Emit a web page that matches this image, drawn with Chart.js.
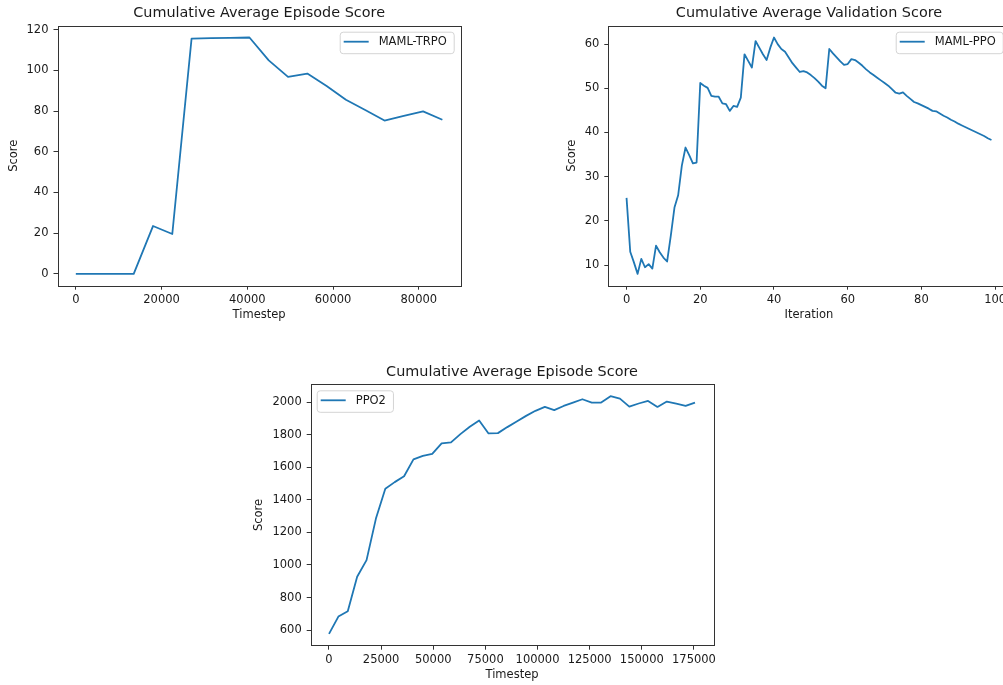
<!DOCTYPE html>
<html>
<head>
<meta charset="utf-8">
<script src="https://cdn.jsdelivr.net/npm/chart.js@4.4.0/dist/chart.umd.min.js"></script>
<style>
  html, body { margin: 0; padding: 0; background: #fff; overflow: hidden; }
  body { width: 1003px; height: 685px; position: relative; }
  canvas { position: absolute; }
</style>
</head>
<body>
<canvas id="trpo"></canvas>
<canvas id="mamlppo"></canvas>
<canvas id="ppo2"></canvas>
<script>
// MAML-TRPO: cumulative average episode score vs timestep
var trpoSteps = [0, 4500, 9000, 13500, 18000, 22500, 27000, 31500, 36000, 40500,
                 45000, 49500, 54000, 58500, 63000, 67500, 72000, 76500, 81000, 85500];
var trpoScore = [0, 0, 0, 0, 23.5, 19.6, 115.6, 115.8, 115.9, 116.1,
                 104.9, 96.8, 98.4, 92.3, 85.5, 80.5, 75.3, 77.6, 79.8, 75.7];
var trpoXTicks = [0, 20000, 40000, 60000, 80000];
var trpoYTicks = [0, 20, 40, 60, 80, 100, 120];

// MAML-PPO: cumulative average validation score vs iteration
var ppoIter = [];
for (var i = 0; i < 100; i++) ppoIter.push(i);
var ppoScore = [25.2, 13.0, 10.6, 8.0, 11.4, 9.5, 10.2, 9.2, 14.4, 12.9,
                11.7, 10.8, 16.6, 23.0, 25.8, 32.5, 36.6, 34.9, 33.0, 33.2,
                51.2, 50.6, 50.1, 48.3, 48.1, 48.1, 46.6, 46.4, 44.9, 46.0,
                45.8, 47.9, 57.7, 56.2, 54.7, 60.7, 59.2, 57.7, 56.4, 59.2,
                61.5, 60.0, 58.9, 58.3, 57.0, 55.7, 54.7, 53.7, 53.9, 53.6,
                53.0, 52.3, 51.5, 50.6, 50.0, 58.9, 57.9, 57.0, 56.1, 55.3,
                55.5, 56.6, 56.4, 55.8, 55.1, 54.3, 53.6, 53.0, 52.4, 51.8,
                51.2, 50.6, 49.8, 49.0, 48.8, 49.1, 48.3, 47.6, 46.9, 46.6,
                46.2, 45.8, 45.4, 44.9, 44.8, 44.3, 43.8, 43.4, 42.9, 42.5,
                42.0, 41.6, 41.2, 40.8, 40.4, 40.0, 39.6, 39.2, 38.7, 38.3];
var ppoXTicks = [0, 20, 40, 60, 80, 100];
var ppoYTicks = [10, 20, 30, 40, 50, 60];

// PPO2: cumulative average episode score vs timestep
var ppo2Steps = [0, 4500, 9000, 13500, 18000, 22500, 27000, 31500, 36000, 40500,
                 45000, 49500, 54000, 58500, 63000, 67500, 72000, 76500, 81000, 85500,
                 90000, 94500, 99000, 103500, 108000, 112500, 117000, 121500, 126000, 130500,
                 135000, 139500, 144000, 148500, 153000, 157500, 162000, 166500, 171000, 175500];
var ppo2Score = [577, 683, 716, 928, 1030, 1285, 1468, 1509, 1545, 1649,
                 1670, 1682, 1747, 1753, 1804, 1849, 1888, 1808, 1810, 1847,
                 1881, 1916, 1947, 1971, 1951, 1977, 1998, 2018, 1998, 1998,
                 2037, 2022, 1973, 1992, 2008, 1971, 2004, 1992, 1977, 1998];
var ppo2XTicks = [0, 25000, 50000, 75000, 100000, 125000, 150000, 175000];
var ppo2YTicks = [600, 800, 1000, 1200, 1400, 1600, 1800, 2000];

Chart.defaults.font.family = 'DejaVu Sans';
Chart.defaults.color = '#1a1a1a';

var TXT = '#1a1a1a';
var FS = 11.5;

// matplotlib-like frame, title over the axes, legend box inside the axes
var framePlugin = {
  id: 'frame',
  afterDraw: function(chart, args, opts) {
    var a = chart.chartArea, ctx = chart.ctx;
    ctx.save();
    ctx.strokeStyle = '#333';
    ctx.lineWidth = 1;
    ctx.strokeRect(Math.round(a.left) + 0.5, Math.round(a.top) + 0.5,
                   Math.round(a.right - a.left), Math.round(a.bottom - a.top));

    // title centred on the plot area
    ctx.fillStyle = TXT;
    ctx.font = '14.4px "DejaVu Sans"';
    ctx.textAlign = 'center';
    ctx.textBaseline = 'middle';
    ctx.fillText(opts.title, (a.left + a.right) / 2, a.top - 12.5);

    // legend
    var label = chart.data.datasets[0].label;
    ctx.font = FS + 'px "DejaVu Sans"';
    ctx.textAlign = 'left';
    var tw = ctx.measureText(label).width;
    var bw = 39 + tw + 7, bh = 21.5;
    var x0 = opts.side === 'left' ? a.left + 6 : a.right - 7 - bw;
    var y0 = a.top + 6;
    ctx.beginPath();
    ctx.roundRect(x0 + 0.5, y0 + 0.5, bw, bh, 3);
    ctx.fillStyle = 'rgba(255,255,255,0.85)';
    ctx.fill();
    ctx.strokeStyle = '#d4d4d4';
    ctx.stroke();
    ctx.beginPath();
    ctx.moveTo(x0 + 4, y0 + 10);
    ctx.lineTo(x0 + 29, y0 + 10);
    ctx.strokeStyle = '#1f77b4';
    ctx.lineWidth = 1.8;
    ctx.stroke();
    ctx.fillStyle = TXT;
    ctx.textBaseline = 'middle';
    ctx.fillText(label, x0 + 39, y0 + 10.5);
    ctx.restore();
  }
};

function padRange(vals) {
  var lo = Math.min.apply(null, vals), hi = Math.max.apply(null, vals);
  var m = (hi - lo) * 0.05;
  return [lo - m, hi + m];
}

function makeChart(cfg) {
  var c = document.getElementById(cfg.id);
  c.width = cfg.box.w;
  c.height = cfg.box.h;
  c.style.left = cfg.box.x + 'px';
  c.style.top = cfg.box.y + 'px';

  var xr = padRange(cfg.xs), yr = padRange(cfg.ys);

  return new Chart(c, {
    type: 'line',
    data: {
      datasets: [{
        label: cfg.label,
        data: cfg.xs.map(function(x, i) { return {x: x, y: cfg.ys[i]}; }),
        borderColor: '#1f77b4',
        borderWidth: 1.8,
        pointRadius: 0,
        tension: 0,
        fill: false,
        borderJoinStyle: 'round'
      }]
    },
    options: {
      responsive: false,
      animation: false,
      events: [],
      layout: { padding: { left: 0, top: cfg.plot.t - cfg.box.y, bottom: 0, right: cfg.box.x + cfg.box.w - cfg.plot.r } },
      plugins: {
        legend: { display: false },
        tooltip: { enabled: false },
        title: { display: false },
        frame: { side: cfg.legendSide, title: cfg.title }
      },
      scales: {
        x: {
          type: 'linear',
          min: xr[0],
          max: xr[1],
          afterBuildTicks: function(s) { s.ticks = cfg.xTicks.map(function(v) { return {value: v}; }); },
          afterFit: function(s) { s.height = cfg.box.y + cfg.box.h - cfg.plot.b; },
          grid: { display: true, drawOnChartArea: false, drawTicks: true, tickLength: 4, color: '#333' },
          border: { display: false },
          ticks: { autoSkip: false, maxRotation: 0, padding: 3, font: { size: FS }, color: TXT,
                   callback: function(v) { return String(v); } },
          title: { display: true, text: cfg.xLabel, font: { size: FS }, color: TXT, padding: { top: 0, bottom: 0 } }
        },
        y: {
          type: 'linear',
          min: yr[0],
          max: yr[1],
          afterBuildTicks: function(s) { s.ticks = cfg.yTicks.map(function(v) { return {value: v}; }); },
          afterFit: function(s) { s.width = cfg.plot.l - cfg.box.x; },
          grid: { display: true, drawOnChartArea: false, drawTicks: true, tickLength: 4, color: '#333' },
          border: { display: false },
          ticks: { autoSkip: false, padding: 5, font: { size: FS }, color: TXT,
                   callback: function(v) { return String(v); } },
          title: { display: true, text: cfg.yLabel, font: { size: FS }, color: TXT, padding: { top: 0, bottom: 0 } }
        }
      }
    },
    plugins: [framePlugin]
  });
}

makeChart({
  id: 'trpo',
  box: { x: 7, y: 0, w: 473, h: 322 },
  plot: { l: 57.5, t: 25.7, r: 460.7, b: 285.7 },
  title: 'Cumulative Average Episode Score',
  xLabel: 'Timestep', yLabel: 'Score', label: 'MAML-TRPO',
  xs: trpoSteps, ys: trpoScore, xTicks: trpoXTicks, yTicks: trpoYTicks,
  legendSide: 'right'
});

makeChart({
  id: 'mamlppo',
  box: { x: 565, y: 0, w: 464, h: 322 },
  plot: { l: 608.3, t: 25.7, r: 1009.7, b: 285.7 },
  title: 'Cumulative Average Validation Score',
  xLabel: 'Iteration', yLabel: 'Score', label: 'MAML-PPO',
  xs: ppoIter, ys: ppoScore, xTicks: ppoXTicks, yTicks: ppoYTicks,
  legendSide: 'right'
});

makeChart({
  id: 'ppo2',
  box: { x: 252, y: 358, w: 480, h: 324 },
  plot: { l: 310.7, t: 384.3, r: 713.3, b: 645.7 },
  title: 'Cumulative Average Episode Score',
  xLabel: 'Timestep', yLabel: 'Score', label: 'PPO2',
  xs: ppo2Steps, ys: ppo2Score, xTicks: ppo2XTicks, yTicks: ppo2YTicks,
  legendSide: 'left'
});
</script>
</body>
</html>
